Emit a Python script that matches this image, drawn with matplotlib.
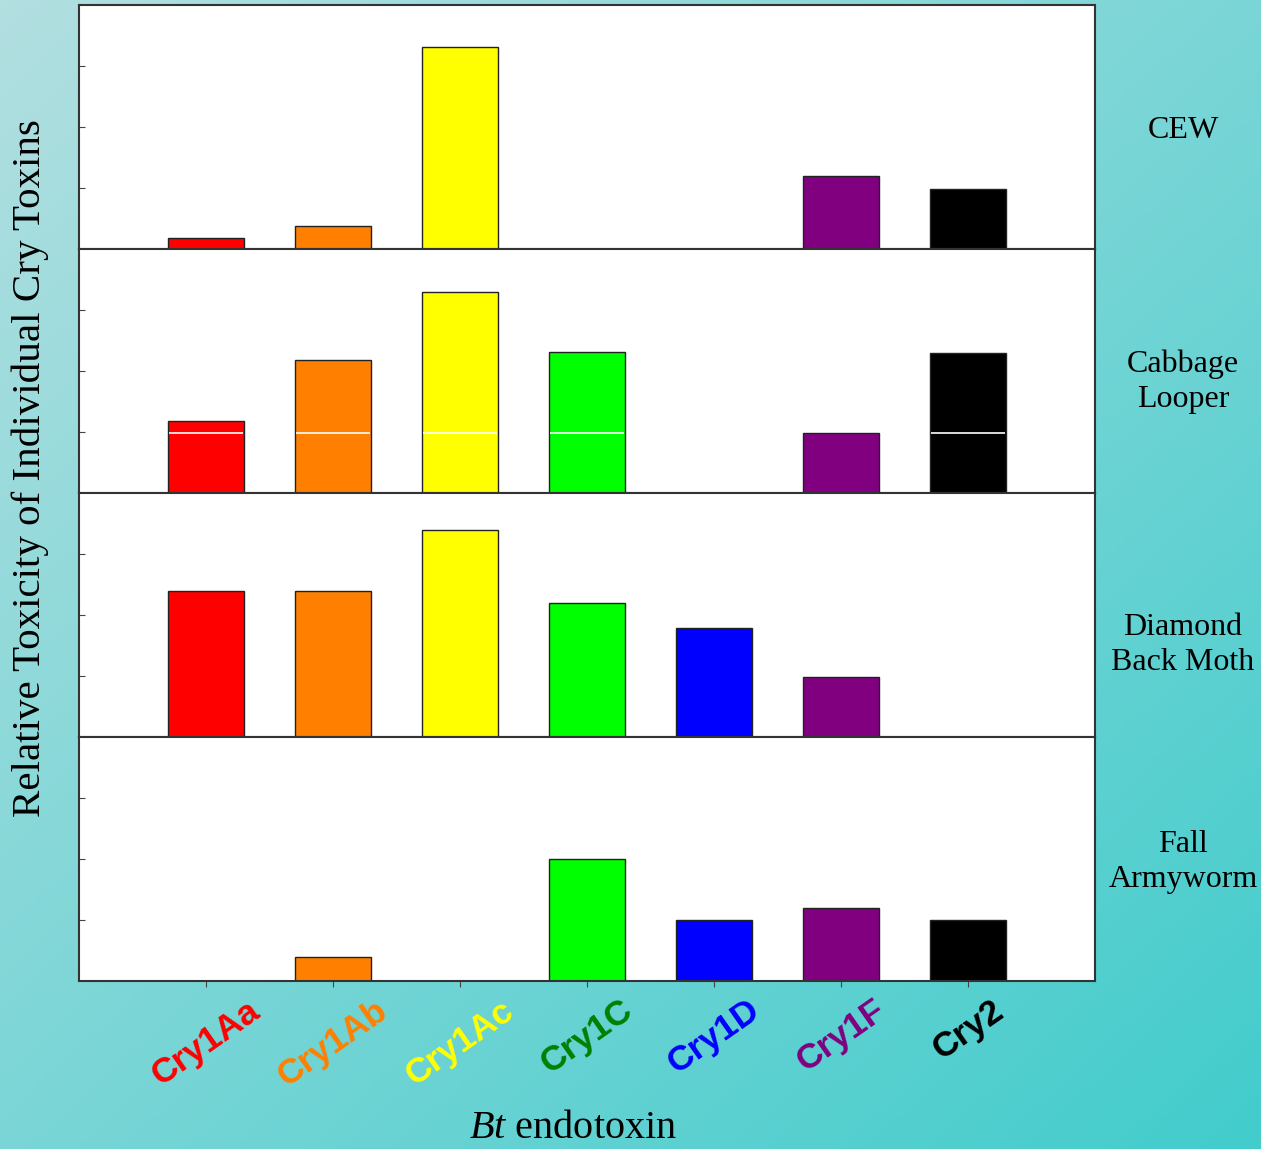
import matplotlib
matplotlib.use("Agg")
import matplotlib.pyplot as plt
import numpy as np

# categorias e valores (escala 0-4 em cada painel)
toxinas = ['Cry1Aa', 'Cry1Ab', 'Cry1Ac', 'Cry1C', 'Cry1D', 'Cry1F', 'Cry2']
cor_barra = ['#ff0000', '#ff8000', '#ffff00', '#00ff00', '#0000ff', '#800080', '#000000']
cor_rotulo = ['#ff0000', '#ff8000', '#ffff00', '#008000', '#0000ff', '#800080', '#000000']

pragas = ['CEW', 'Cabbage\nLooper', 'Diamond\nBack Moth', 'Fall\nArmyworm']
cew = [0.18, 0.38, 3.31, 0, 0, 1.19, 0.99]
cabbage_looper = [1.18, 2.18, 3.29, 2.31, 0, 0.98, 2.30]
diamond_back_moth = [2.39, 2.39, 3.39, 2.20, 1.79, 0.98, 0]
fall_armyworm = [0, 0.39, 0, 2.00, 1.00, 1.20, 1.00]
valores = [cew, cabbage_looper, diamond_back_moth, fall_armyworm]
linha_branca = [None, 0.98, None, None]

plt.rcParams['font.family'] = 'Liberation Serif'
plt.rcParams['mathtext.fontset'] = 'custom'
plt.rcParams['mathtext.it'] = 'Liberation Serif:italic'
plt.rcParams['mathtext.rm'] = 'Liberation Serif'

fig = plt.figure(figsize=(12.61, 11.49), dpi=100)

# fundo em degrade
fundo = fig.add_axes([0, 0, 1, 1], zorder=-10)
gx, gy = np.meshgrid(np.linspace(0, 1, 300), np.linspace(0, 1, 300))
t = (gx + gy) / 2
c0 = np.array([0.70, 0.875, 0.88])
c1 = np.array([0.26, 0.80, 0.80])
img = c0[None, None, :] * (1 - t[..., None]) + c1[None, None, :] * t[..., None]
fundo.imshow(img, aspect='auto', extent=[0, 1, 0, 1], origin='upper')
fundo.axis('off')

esq, dir_ = 79 / 1261, 1095 / 1261
topo = 1 - 5 / 1149
base = 1 - 981 / 1149
alt = (topo - base) / 4
pos_y_rotulo = [0.484, 0.457, 0.378, 0.488]
largura = 0.6

x = np.arange(len(toxinas))
for i in range(4):
    ax = fig.add_axes([esq, topo - (i + 1) * alt, dir_ - esq, alt])
    ax.set_facecolor('white')
    ax.bar(x, valores[i], largura, color=cor_barra, edgecolor='#222222', linewidth=1, zorder=2)
    if linha_branca[i] is not None:
        # linha branca so dentro das barras que passam dela
        for xi, v in zip(x, valores[i]):
            if v > linha_branca[i] + 0.02:
                ax.hlines(linha_branca[i], xi - largura / 2 + 0.01, xi + largura / 2 - 0.01,
                          color='white', linewidth=1.2, zorder=3)
    ax.set_xlim(-1, 7)
    ax.set_ylim(0, 4)
    ax.set_yticks([1, 2, 3])
    ax.set_yticklabels([])
    ax.tick_params(axis='y', direction='in', length=4, color='#444444')
    for s in ax.spines.values():
        s.set_color('#333333')
        s.set_linewidth(1.5)
    ax.text(1.0866, pos_y_rotulo[i], pragas[i], transform=ax.transAxes,
            ha='center', va='center', fontsize=23, linespacing=1.27)
    if i < 3:
        ax.set_xticks([])
    else:
        ax.set_xticks(x)
        ax.set_xticklabels(toxinas, rotation=35, ha='center', va='top',
                           fontsize=25.5, family='Liberation Sans', fontweight='bold')
        ax.tick_params(axis='x', direction='out', length=4, color='#444444', pad=5)
        for lab, c in zip(ax.get_xticklabels(), cor_rotulo):
            lab.set_color(c)

fig.text(30 / 1261, 1 - 468 / 1149, 'Relative Toxicity of Individual Cry Toxins',
         rotation=90, ha='center', va='center', fontsize=29.5)
fig.text(573 / 1261, 1 - 1128 / 1149, r'$\it{Bt}$ endotoxin',
         ha='center', va='center', fontsize=29)

fig.savefig('out.png', dpi=100)
